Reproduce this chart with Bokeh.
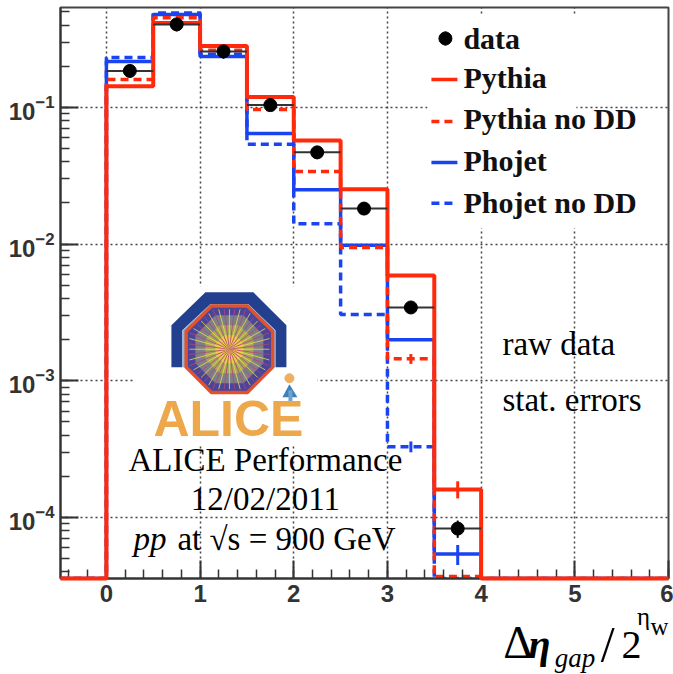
import math
from bokeh.plotting import figure
from bokeh.layouts import column
from bokeh.models import LogTicker, SingleIntervalTicker, LogTickFormatter, Range1d
from bokeh.core.properties import value
from bokeh.embed import file_html
from bokeh.resources import INLINE

edges = [0, 0.5, 1, 1.5, 2, 2.5, 3, 3.5, 4]
centers = [0.25, 0.75, 1.25, 1.75, 2.25, 2.75, 3.25, 3.75]
pythia = [0.1426, 0.414, 0.281, 0.119, 0.0574, 0.0252, 0.0059, 1.6e-4]
pythia_nodd = [0.16, 0.453, 0.262, 0.0966, 0.034, 0.00946, 0.00145, 3.7e-5]
phojet = [0.217, 0.478, 0.236, 0.0645, 0.025, 0.0098, 0.002, 5.4e-5]
phojet_nodd = [0.232, 0.49, 0.245, 0.0537, 0.0141, 0.00306, 3.3e-4, 1e-6]
data = [0.185, 0.405, 0.257, 0.104, 0.0469, 0.0182, 0.00344, 8.3e-5]
data_err = [0.02, 0.045, 0.03, 0.01, 0.005, 0.0017, 0.0003, 1.2e-5]
legend_names = ["data", "Pythia", "Pythia no DD", "Phojet", "Phojet no DD"]

RED = "#ff2a0c"
BLUE = "#1a44f0"
FLOOR = 3.58e-5
XMIN, XMAX = -0.49, 6.0
SPLIT = 607  # page row where the strip holding the axis title begins
BASE = 0.34  # baseline correction of the text, in ems

def fx(px):
    return (px - 106.0) / 93.68

def fy(py):
    return 10 ** (-1 - (py - 107.0) / 136.8)

p = figure(width=673, height=SPLIT, output_backend="svg", toolbar_location=None,
           x_range=Range1d(XMIN, XMAX), y_range=Range1d(FLOOR, fy(7)), y_axis_type="log",
           min_border_left=60, min_border_right=5, min_border_top=7, min_border_bottom=SPLIT - 578,
           background_fill_color="white", border_fill_color="white")
p.outline_line_color = "#444444"
p.outline_line_width = 2

p.xaxis.ticker = SingleIntervalTicker(interval=1, num_minor_ticks=5)
p.yaxis.ticker = LogTicker(num_minor_ticks=10)
p.yaxis.formatter = LogTickFormatter()
for ax in (p.xaxis[0], p.yaxis[0]):
    ax.axis_line_color = "#333333"
    ax.axis_line_width = 2
    ax.major_tick_in = 18
    ax.major_tick_out = 0
    ax.minor_tick_in = 9
    ax.minor_tick_out = 0
    ax.major_tick_line_color = "#333333"
    ax.major_tick_line_width = 2
    ax.minor_tick_line_color = "#333333"
    ax.minor_tick_line_width = 1.5
    ax.major_label_text_font = "Liberation Sans"
    ax.major_label_text_font_style = "bold"
    ax.major_label_text_font_size = "24px"
    ax.major_label_text_color = "#333333"
p.xaxis.major_label_standoff = 6
p.yaxis.major_label_standoff = 6

for g in (p.xgrid[0], p.ygrid[0]):
    g.grid_line_color = "#444444"
    g.grid_line_width = 1.5
    g.grid_line_dash = "2 3"

def box(x0, x1, y0, y1):
    p.quad(left=[fx(x0)], right=[fx(x1)], top=[fy(y0)], bottom=[fy(y1)], fill_color="white", line_color=None)

box(427, 576, 15, 228)
box(133, 317, 286, 445)

# ---------- logo ----------
def poly(pts, color):
    p.patch([fx(a) for a, b in pts], [fy(b) for a, b in pts], fill_color=color, line_color=None)

poly([(171, 367), (171, 325), (205, 292), (253, 292), (286, 325), (286, 367), (275, 367), (275, 330),
      (248, 304), (210, 304), (182, 330), (182, 367)], "#23408f")
poly([(182, 367), (182, 330), (210, 304), (248, 304), (275, 330), (275, 367), (271, 367), (271, 332),
      (246, 307), (212, 307), (187, 332), (187, 367)], "#8fb6e0")

def octagon(cx, cy, r, color):
    pts = [(cx + r / math.cos(math.pi / 8) * math.cos(math.pi / 8 + i * math.pi / 4),
            cy + r / math.cos(math.pi / 8) * math.sin(math.pi / 8 + i * math.pi / 4)) for i in range(8)]
    poly(pts, color)

CX, CY = 229, 349
octagon(CX, CY, 45, "#e2502c")
octagon(CX, CY, 41.5, "#4a4598")
octagon(CX, CY, 34, "#7f7f88")
octagon(CX, CY, 24, "#a5a85a")
octagon(CX, CY, 14, "#e3c04a")
octagon(CX, CY, 6, "#f2a23a")
ray_xs0, ray_ys0, ray_xs1, ray_ys1, ray_cols = [], [], [], [], []
for i in range(48):
    a = i * 2 * math.pi / 48
    r = 40 / max(abs(math.cos(a)), abs(math.sin(a)), (abs(math.cos(a)) + abs(math.sin(a))) / math.sqrt(2))
    ray_xs0.append(fx(CX)); ray_ys0.append(fy(CY))
    ray_xs1.append(fx(CX + r * math.cos(a))); ray_ys1.append(fy(CY + r * math.sin(a)))
    ray_cols.append("#e8dc50" if i % 2 == 0 else "#b8407e")
p.segment(ray_xs0, ray_ys0, ray_xs1, ray_ys1, line_color=ray_cols, line_width=1, line_alpha=0.8)
poly([(282, 397), (289, 384), (297, 397)], "#3d80bd")
poly([(288, 405), (288, 390), (292, 390), (292, 405)], "#6fa3cf")
p.scatter([fx(289)], [fy(378)], size=9, color="#eeb060")

# ---------- histograms ----------
def outline(vals):
    xs, ys = [XMIN, edges[0]], [FLOOR, FLOOR]
    for i, v in enumerate(vals):
        v = max(v, FLOOR)
        xs += [edges[i], edges[i + 1]]
        ys += [v, v]
    xs += [edges[-1], edges[-1], XMAX]
    ys += [ys[-1], FLOOR, FLOOR]
    return xs, ys

xs, ys = outline(phojet)
p.line(xs, ys, line_color=BLUE, line_width=3.5)
xs, ys = outline(phojet_nodd)
p.line(xs, ys, line_color=BLUE, line_width=3.5, line_dash="8 5")
xs, ys = outline(pythia_nodd)
p.line(xs, ys, line_color=RED, line_width=3.5, line_dash="8 5")
xs, ys = outline(pythia)
p.line(xs, ys, line_color=RED, line_width=4, level="overlay")

# model error bars in the last bins
p.segment([3.75], [1.38e-4], [3.75], [1.84e-4], line_color=RED, line_width=3)
p.segment([3.75], [4.5e-5], [3.75], [6.3e-5], line_color=BLUE, line_width=3)
p.segment([3.25], [1.33e-3], [3.25], [1.57e-3], line_color=RED, line_width=3)
p.segment([3.25], [3.0e-4], [3.25], [3.6e-4], line_color=BLUE, line_width=3)

# data
p.segment(edges[:-1], data, edges[1:], data, line_color="#333333", line_width=2, level="overlay")
p.segment(centers, [d - e for d, e in zip(data, data_err)], centers, [d + e for d, e in zip(data, data_err)],
          line_color="black", line_width=2, level="overlay")
p.scatter(centers, data, size=13, color="black", level="overlay")

# ---------- legend ----------
p.scatter([fx(445)], [fy(38)], size=13, color="black")
p.segment([fx(445)], [fy(31)], [fx(445)], [fy(45)], line_color="black", line_width=2)
key = [(79, RED, "solid"), (121, RED, "8 5"), (162, BLUE, "solid"), (203, BLUE, "8 5")]
for py, c, d in key:
    p.line([fx(431), fx(457)], [fy(py), fy(py)], line_color=c, line_width=3.5, line_dash=d)

def txt(px, py, s, size, font="Liberation Serif", style="normal", color="black", align="left"):
    p.text(x=[fx(px)], y=[fy(py - BASE * size)], text=[s], text_font=value(font), text_font_size=f"{size}px",
           text_font_style=style, text_color=color, text_align=align, text_baseline="alphabetic", level="overlay")

for name, py in zip(legend_names, [48, 87, 128, 170, 212]):
    txt(463, py, name, 30, style="bold", color="#111111")

txt(228, 436, "ALICE", 50, font="Liberation Sans", style="bold", color="#eda84b", align="center")
txt(265, 471, "ALICE Performance", 33, align="center")
txt(265, 510, "12/02/2011", 33, align="center")
txt(133, 550, "pp", 33, style="italic")
txt(177, 550, "at √s = 900 GeV", 33)
txt(502, 355, "raw data", 33)
txt(502, 411, "stat. errors", 33)

# ---------- axis title strip ----------
q = figure(width=673, height=674 - SPLIT, output_backend="svg", toolbar_location=None,
           x_range=Range1d(0, 673), y_range=Range1d(674, SPLIT), min_border=0,
           x_axis_location=None, y_axis_location=None, outline_line_color=None,
           background_fill_color="white", border_fill_color="white")
q.grid.visible = False

def title_txt(px, py, s, size, style="normal"):
    q.text(x=[px], y=[py - BASE * size], text=[s], text_font=value("Liberation Serif"), text_font_size=f"{size}px",
           text_font_style=style, text_color="black", text_baseline="alphabetic")

title_txt(490, 658, "Δ", 46)
title_txt(518, 658, "η", 40, style="bold italic")
title_txt(547, 667, "gap", 27, style="italic")
title_txt(598, 660, "/", 50)
title_txt(621, 658, "2", 40)
title_txt(638, 624, "η", 25)
title_txt(653, 634, "w", 25)

open("out.html", "w").write(file_html(column(p, q, spacing=0), INLINE))
